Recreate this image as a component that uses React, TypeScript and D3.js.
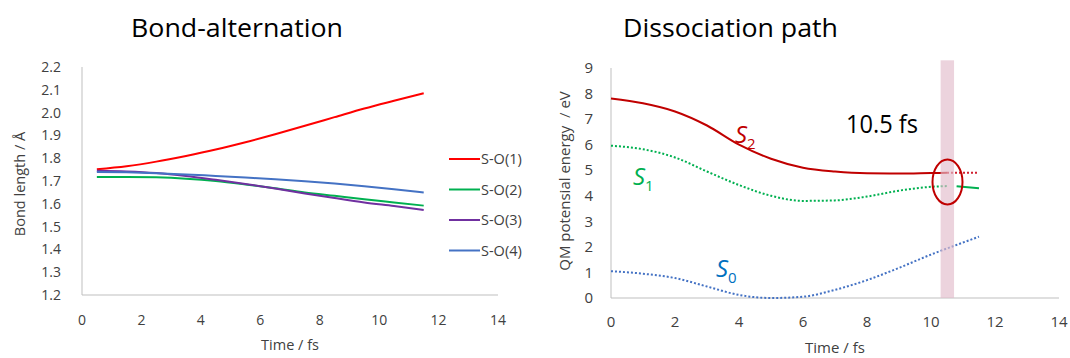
import React from 'react';
import { scaleLinear, line, curveMonotoneX } from 'd3';

// bond-alternation panel
const bondTimes = [0.5, 1.5, 2.5, 3.5, 4.5, 5.5, 6.5, 7.5, 8.5, 9.5, 10.5, 11.5];
const so1 = [1.752, 1.765, 1.785, 1.81, 1.838, 1.87, 1.905, 1.942, 1.98, 2.018, 2.052, 2.085];
const so2 = [1.717, 1.718, 1.716, 1.71, 1.7, 1.685, 1.668, 1.65, 1.635, 1.62, 1.606, 1.592];
const so3 = [1.745, 1.742, 1.735, 1.722, 1.705, 1.687, 1.667, 1.645, 1.625, 1.606, 1.59, 1.573];
const so4 = [1.74, 1.738, 1.734, 1.729, 1.722, 1.715, 1.708, 1.699, 1.689, 1.677, 1.664, 1.65];
const bondNames = ['S-O(1)', 'S-O(2)', 'S-O(3)', 'S-O(4)'];
const bondColors = ['#ff0000', '#00b050', '#7030a0', '#4472c4'];
const bondYTicks = [1.2, 1.3, 1.4, 1.5, 1.6, 1.7, 1.8, 1.9, 2.0, 2.1, 2.2];
const xTicks = [0, 2, 4, 6, 8, 10, 12, 14];

// dissociation panel
const s2Times = [0, 1, 2, 3, 4, 5, 6, 7, 8, 9, 10, 10.5];
const s2Solid = [7.81, 7.62, 7.3, 6.75, 6.0, 5.45, 5.1, 4.95, 4.88, 4.87, 4.89, 4.9];
const s2TailTimes = [10.5, 11.5];
const s2Tail = [4.9, 4.9];
const s1Times = [0, 1, 2, 3, 4, 5, 6, 7, 8, 9, 10, 10.5];
const s1Dotted = [5.96, 5.82, 5.5, 4.95, 4.42, 4.0, 3.8, 3.82, 3.97, 4.2, 4.35, 4.38];
const s1TailTimes = [10.8, 11.5];
const s1Tail = [4.37, 4.29];
const s0Times = [0, 1, 2, 3, 4, 5, 6, 7, 8, 9, 10, 11, 11.5];
const s0Dotted = [1.05, 0.95, 0.78, 0.45, 0.12, 0.0, 0.05, 0.32, 0.7, 1.18, 1.7, 2.17, 2.4];
const energyYTicks = [0, 1, 2, 3, 4, 5, 6, 7, 8, 9];
const hopTime = 10.5;

const FONT = "'Open Sans', 'Noto Sans', sans-serif";
const AXIS = '#bfbfbf';
const TEXT = '#404040';

type Pt = [number, number];
const zip = (t: number[], v: number[]): Pt[] => t.map((d, i) => [d, v[i]]);

export default function App() {
  // left chart scales
  const xL = scaleLinear().domain([0, 14]).range([82, 498]);
  const yL = scaleLinear().domain([1.2, 2.2]).range([295, 67]);
  const lineL = line<Pt>()
    .x(d => xL(d[0]))
    .y(d => yL(d[1]))
    .curve(curveMonotoneX);
  const bondSeries = [so1, so2, so3, so4];

  // right chart scales
  const xR = scaleLinear().domain([0, 14]).range([611, 1059]);
  const yR = scaleLinear().domain([0, 9]).range([298, 68]);
  const lineR = line<Pt>()
    .x(d => xR(d[0]))
    .y(d => yR(d[1]))
    .curve(curveMonotoneX);

  return (
    <div style={{ position: 'absolute', left: 0, top: 0 }}>
      <svg width={1070} height={358} style={{ display: 'block', background: '#fff' }}>
        {/* titles */}
        <text x={131} y={37} fontFamily={FONT} fontSize={25} fill="#000" textLength={212} lengthAdjust="spacingAndGlyphs">
          Bond-alternation
        </text>
        <text x={623} y={37} fontFamily={FONT} fontSize={25} fill="#000" textLength={215} lengthAdjust="spacingAndGlyphs">
          Dissociation path
        </text>

        {/* ---- left chart ---- */}
        <line x1={xL(0)} x2={xL(0)} y1={yL(2.2)} y2={yL(1.2)} stroke={AXIS} />
        <line x1={xL(0)} x2={xL(14)} y1={yL(1.2)} y2={yL(1.2)} stroke={AXIS} />
        {bondYTicks.map(t => (
          <text key={t} x={xL(0) - 21} y={yL(t)} dy="0.35em" textAnchor="end" fontFamily={FONT} fontSize={14} fill={TEXT}>
            {t.toFixed(1)}
          </text>
        ))}
        {xTicks.map(t => (
          <text key={t} x={xL(t)} y={325} textAnchor="middle" fontFamily={FONT} fontSize={14} fill={TEXT}>
            {t}
          </text>
        ))}
        <text x={(xL(0) + xL(14)) / 2} y={350} textAnchor="middle" fontFamily={FONT} fontSize={14.5} fill={TEXT}>
          Time / fs
        </text>
        <text transform="translate(25,184) rotate(-90)" textAnchor="middle" fontFamily={FONT} fontSize={14.5} fill={TEXT}>
          Bond length / Å
        </text>
        {bondSeries.map((s, i) => (
          <path key={i} d={lineL(zip(bondTimes, s)) || ''} fill="none" stroke={bondColors[i]} strokeWidth={2} />
        ))}
        {bondNames.map((n, i) => (
          <g key={n} transform={`translate(449,${159 + i * 30.5})`}>
            <line x1={0} x2={31} y1={0} y2={0} stroke={bondColors[i]} strokeWidth={2} />
            <text x={32} y={0} dy="0.35em" fontFamily={FONT} fontSize={14.5} fill={TEXT}>
              {n}
            </text>
          </g>
        ))}

        {/* ---- right chart ---- */}
        <line x1={xR(0)} x2={xR(0)} y1={yR(9)} y2={yR(0)} stroke={AXIS} />
        <line x1={xR(0)} x2={xR(14)} y1={yR(0)} y2={yR(0)} stroke={AXIS} />
        {energyYTicks.map(t => (
          <text key={t} x={xR(0) - 18} y={yR(t)} dy="0.35em" textAnchor="end" fontFamily={FONT} fontSize={15} fill={TEXT}>
            {t}
          </text>
        ))}
        {xTicks.map(t => (
          <text key={t} x={xR(t)} y={327} textAnchor="middle" fontFamily={FONT} fontSize={15} fill={TEXT}>
            {t}
          </text>
        ))}
        <text x={(xR(0) + xR(14)) / 2} y={353} textAnchor="middle" fontFamily={FONT} fontSize={15} fill={TEXT}>
          Time / fs
        </text>
        <text transform="translate(570,181) rotate(-90)" textAnchor="middle" fontFamily={FONT} fontSize={15} fill={TEXT} xmlSpace="preserve">
          QM potensial energy  / eV
        </text>

        <path d={lineR(zip(s0Times, s0Dotted)) || ''} fill="none" stroke="#4472c4" strokeWidth={2} strokeDasharray="2 2" />
        <path d={lineR(zip(s1Times, s1Dotted)) || ''} fill="none" stroke="#00b050" strokeWidth={2} strokeDasharray="2 2" />
        <path d={lineR(zip(s1TailTimes, s1Tail)) || ''} fill="none" stroke="#00b050" strokeWidth={2} />
        <path d={lineR(zip(s2Times, s2Solid)) || ''} fill="none" stroke="#c00000" strokeWidth={2} />
        <path d={lineR(zip(s2TailTimes, s2Tail)) || ''} fill="none" stroke="#d02030" strokeWidth={2} strokeDasharray="2 2" />

        {/* hopping time band */}
        <rect
          x={xR(hopTime - 0.2)}
          width={xR(hopTime + 0.22) - xR(hopTime - 0.2)}
          y={yR(9.3)}
          height={yR(0) - yR(9.3)}
          fill="#e2bccb"
          opacity={0.65}
        />
        <ellipse cx={xR(hopTime) + 0.5} cy={182} rx={15} ry={22.5} fill="none" stroke="#c00000" strokeWidth={2} />

        {/* state labels */}
        <text x={735} y={143} fontFamily={FONT} fontSize={24} fontStyle="italic" fill="#c00000">
          S<tspan fontSize={15} fontStyle="normal" dy={6}>2</tspan>
        </text>
        <text x={633} y={185} fontFamily={FONT} fontSize={24} fontStyle="italic" fill="#00b050">
          S<tspan fontSize={15} fontStyle="normal" dy={6}>1</tspan>
        </text>
        <text x={716} y={277} fontFamily={FONT} fontSize={24} fontStyle="italic" fill="#0070c0">
          S<tspan fontSize={15} fontStyle="normal" dy={6}>0</tspan>
        </text>
        <text x={846} y={133} fontFamily={FONT} fontSize={25} fill="#000" textLength={72} lengthAdjust="spacingAndGlyphs">
          10.5 fs
        </text>
      </svg>
    </div>
  );
}
